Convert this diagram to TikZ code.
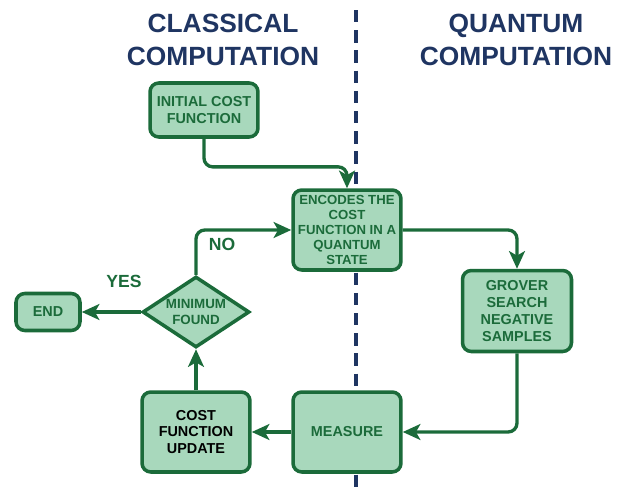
\documentclass[tikz,border=0pt]{standalone}
\usepackage{fontspec}
\setmainfont{Liberation Sans}
\usetikzlibrary{positioning,shapes.geometric,arrows.meta}
\definecolor{boxfill}{HTML}{A8D8BC}
\definecolor{boxline}{HTML}{1B6B3A}
\definecolor{titleblue}{HTML}{1F3562}

\begin{document}
\begin{tikzpicture}[x=0.02cm, y=-0.02cm,
		stepbox/.style={draw=boxline, fill=boxfill, line width=2pt, rounded corners=5pt,
			align=center, text=boxline, font=\fontsize{8.2}{9.6}\selectfont\bfseries,
			minimum width=2.16cm, inner sep=1pt},
		decision/.style={diamond, draw=boxline, fill=boxfill, line width=2pt, aspect=1.5,
			align=center, text=boxline, font=\fontsize{7.6}{9.4}\selectfont\bfseries,
			minimum width=2.14cm, minimum height=1.42cm, inner sep=0pt},
		flow/.style={draw=boxline, line width=1.9pt, rounded corners=5pt,
			-{Stealth[length=10pt,width=9pt,inset=2.5pt]}},
		title/.style={text=titleblue, align=center, font=\fontsize{15}{19}\selectfont\bfseries},
		answer/.style={text=boxline, font=\fontsize{10}{12}\selectfont\bfseries}]
		\useasboundingbox (0,0) rectangle (626,490);
		% split between the two sides
		\coordinate (top) at (356,10);
		\coordinate (bottom) at (356,490);
		\draw[titleblue, line width=2pt, dash pattern=on 7pt off 4.5pt] (top) -- (bottom);
		
		\node[title] (classic) at (223,40) {CLASSICAL\\COMPUTATION};
		\node[title] (quantum) at (516,40) {QUANTUM\\COMPUTATION};
		
		\begin{scope}
			\node[stepbox, minimum height=1.08cm] (init) at (204,110) {INITIAL COST\\FUNCTION};
			\node[stepbox, minimum height=1.6cm, font=\fontsize{7.5}{8.6}\selectfont\bfseries] (encode) at (347,230) {ENCODES THE\\COST\\FUNCTION IN A\\QUANTUM\\STATE};
			\node[stepbox, minimum height=1.62cm, minimum width=2.18cm, font=\fontsize{8.2}{9.6}\selectfont\bfseries] (grover) at (517,311) {GROVER\\SEARCH\\NEGATIVE\\SAMPLES};
			\node[stepbox, minimum height=1.6cm] (measure) at (347,432) {MEASURE};
			\node[stepbox, minimum height=1.6cm, text=black] (update) at (196,432) {COST\\FUNCTION\\UPDATE};
			\node[decision] (found) at (196,312) {MINIMUM\\FOUND};
			\node[stepbox, minimum width=1.28cm, minimum height=0.74cm] (end) at (48,312) {END};
		\end{scope}
		
		\path[flow] (init.south) |- ([yshift=-16pt]init.south -| encode.north) -- (encode.north);
		\path[flow] (encode.east) -| (grover.north);
		\path[flow] (grover.south) |- (measure.east);
		\path[flow] (measure.west) -- (update.east);
		\path[flow] (update.north) -- (found.south);
		\path[flow] (found.north) |- (encode.west);
		\path[flow] (found.west) -- (end.east);
		
		\node[answer] (no) at (222,244) {NO};
		\node[answer] (yes) at (124,281) {YES};
	\end{tikzpicture}
\end{document}
